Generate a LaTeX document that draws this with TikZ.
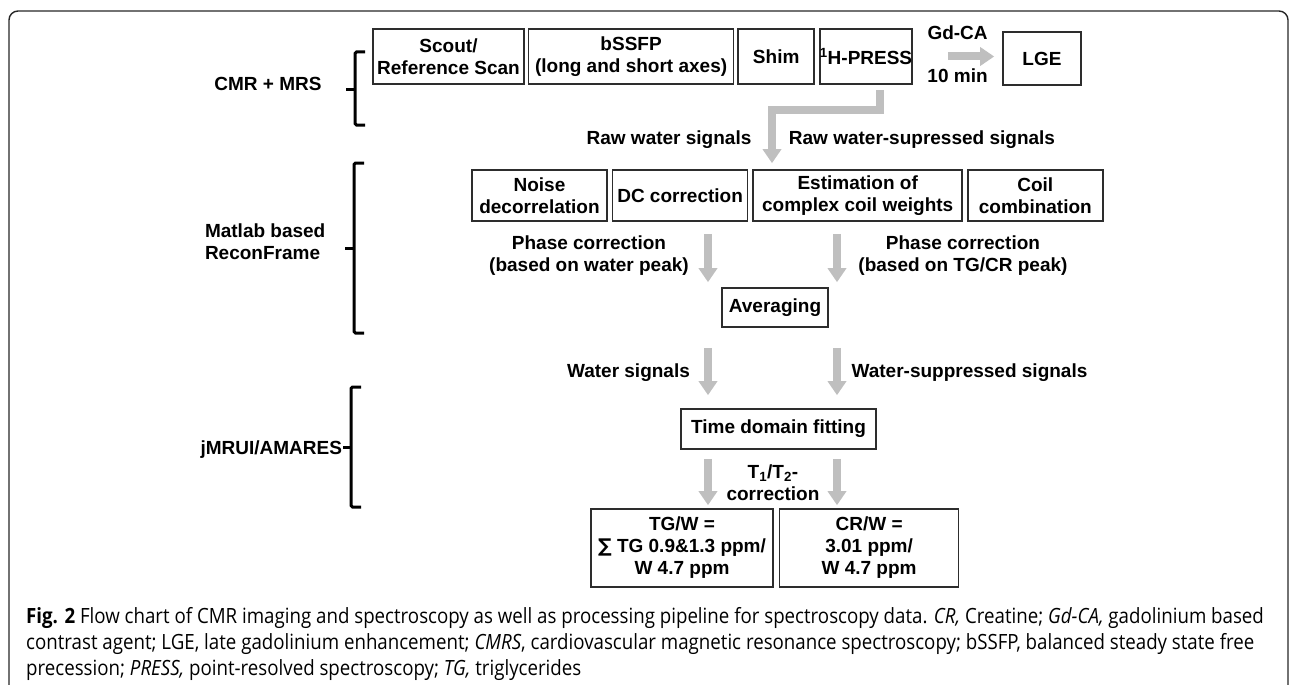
\documentclass[tikz,border=0pt]{standalone}
\usepackage{fontspec}
\setmainfont{Liberation Sans}
\newfontfamily\capfont[FakeStretch=0.89]{Open Sans}
\newfontfamily\symfont{DejaVu Sans}
\usepackage{tikz}
\usetikzlibrary{arrows.meta, positioning}
\usepackage{xcolor}
\definecolor{flowgray}{RGB}{191,191,191}
\definecolor{boxline}{RGB}{45,45,45}

\tikzset{
  box/.style={draw=boxline, line width=1.6pt, align=center, inner sep=0pt,
      font=\bfseries\fontsize{19}{22}\selectfont},
  lbl/.style={align=center, inner sep=0pt, outer sep=0pt, font=\bfseries\fontsize{19}{22}\selectfont},
  flow/.style={draw=flowgray, line width=8pt, -{Triangle[width=18pt,length=14pt]}},
  brace/.style={line width=3pt, rounded corners=1.5pt}
}

\begin{document}
\begin{tikzpicture}[x=1pt, y=-1pt]
  \useasboundingbox (0,0) rectangle (1290,685);
  \clip (0,0) rectangle (1290,685);

  % frame
  \draw[line width=1.4pt, draw=black!85, rounded corners=9pt] (9,11) rectangle (1288,720);

  % acquisition
  \node[box, minimum width=151pt, minimum height=55pt] (scout) at (448.5,56.5) {Scout/\\Reference Scan};
  \node[box, minimum width=205pt, minimum height=55pt, right=3pt of scout] (bssfp) {bSSFP\\(long and short axes)};
  \node[box, minimum width=76pt, minimum height=55pt, right=3pt of bssfp] (shim) {Shim};
  \node[box, minimum width=77pt, minimum height=55pt, right=4pt of shim] (hpress) {\textsuperscript{1}H-PRESS};
  \node[box, minimum width=78pt, minimum height=53pt] (lge) at (1042,58.5) {LGE};

  % reconstruction
  \node[box, minimum width=135pt, minimum height=51pt] (noise) at (539.5,195.5) {Noise\\decorrelation};
  \node[box, minimum width=135pt, minimum height=51pt, right=4pt of noise] (dc) {DC correction};
  \node[box, minimum width=209pt, minimum height=51pt, right=4pt of dc] (est) {Estimation of\\complex coil weights};
  \node[box, minimum width=135pt, minimum height=51pt, right=4pt of est] (coil) {Coil\\combination};
  \node[box, minimum width=106pt, minimum height=39pt] (avg) at (775,307.5) {Averaging};

  % fitting
  \node[box, minimum width=195pt, minimum height=40pt] (fit) at (778.5,429) {Time domain fitting};
  \node[box, minimum width=182pt, minimum height=78pt] (tgw) at (682,548) {TG/W =\\{\symfont ∑} TG 0.9\&1.3 ppm/\\W 4.7 ppm};
  \node[box, minimum width=179pt, minimum height=78pt, right=5pt of tgw] (crw) {CR/W =\\3.01 ppm/\\W 4.7 ppm};

  % stage labels and brackets
  \node[lbl, anchor=base] (cmrlbl) at (268,90) {CMR + MRS};
  \node[lbl, align=left, anchor=west] (matlbl) at (205,241.5) {Matlab based\\ReconFrame};
  \node[lbl, anchor=base east] (jmrlbl) at (342,454) {jMRUI/AMARES};
  \draw[brace] (365,52) -- (355,52) -- (355,125) -- (365,125);
  \draw[brace] (355,89) -- (346,89);
  \draw[brace] (364,163) -- (354,163) -- (354,333) -- (364,333);
  \draw[brace] (354,248) -- (345,248);
  \draw[brace] (361,387) -- (351,387) -- (351,507) -- (361,507);
  \draw[brace] (351,447) -- (343,447);

  % signal labels
  \node[lbl, anchor=base] (rawwat) at (669,144) {Raw water signals};
  \node[lbl, anchor=base] (rawsup) at (922,144) {Raw water-supressed signals};
  \node[lbl] (phasel) at (589,256) {Phase correction\\(based on water peak)};
  \node[lbl] (phaser) at (963,256) {Phase correction\\(based on TG/CR peak)};
  \node[lbl, anchor=base] (watsig) at (628.5,377) {Water signals};
  \node[lbl, anchor=base] (supsig) at (969.5,377) {Water-suppressed signals};
  \node[lbl] (relax) at (773,482.5) {T\textsubscript{1}/T\textsubscript{2}-\\correction};

  % arrows
  \coordinate (split) at (772,110);
  \coordinate (colL) at (708,0);
  \coordinate (colR) at (837,0);
  \draw[flow, shorten <=35pt, shorten >=8pt] (hpress.east) -- (hpress.east -| lge.west)
    node[lbl, midway, above=17pt] (gdca) {Gd-CA}
    node[lbl, midway, below=12pt] (tenmin) {10 min};
  \draw[flow, shorten <=5pt, shorten >=6pt] ([xshift=14pt]hpress.south) |- (split) -- (split |- est.north);
  \draw[flow, shorten <=12pt, shorten >=5pt] (colL |- dc.south) -- (colL |- avg.north);
  \draw[flow, shorten <=12pt, shorten >=5pt] (colR |- est.south) -- (colR |- avg.north);
  \draw[flow, shorten <=20pt, shorten >=13pt] (colL |- avg.south) -- (colL |- fit.north);
  \draw[flow, shorten <=20pt, shorten >=13pt] (colR |- avg.south) -- (colR |- fit.north);
  \draw[flow, shorten <=9pt, shorten >=3pt] (colL |- fit.south) -- (colL |- tgw.north);
  \draw[flow, shorten <=9pt, shorten >=3pt] (colR |- fit.south) -- (colR |- crw.north);

  % caption
  \node[anchor=north west, align=left, inner sep=0pt, font=\capfont\fontsize{21}{26}\selectfont] (caption) at (26,607)
    {\textbf{Fig. 2} Flow chart of CMR imaging and spectroscopy as well as processing pipeline for spectroscopy data. \textit{CR,} Creatine; \textit{Gd-CA,} gadolinium based\\
     contrast agent; LGE, late gadolinium enhancement; \textit{CMRS}, cardiovascular magnetic resonance spectroscopy; bSSFP, balanced steady state free\\
     precession; \textit{PRESS,} point-resolved spectroscopy; \textit{TG,} triglycerides};
\end{tikzpicture}
\end{document}
